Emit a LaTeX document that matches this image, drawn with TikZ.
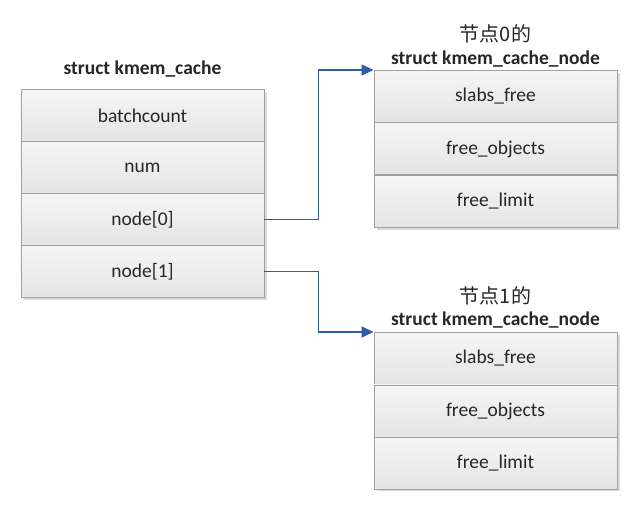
\documentclass[tikz,border=0pt]{standalone}
\usepackage{fontspec}
\setmainfont{Carlito}
\newfontfamily\cjk{Noto Sans CJK SC}
\usetikzlibrary{arrows.meta,positioning}
\definecolor{rowedge}{HTML}{A0A0A0}
\definecolor{rowtop}{HTML}{F6F6F6}
\definecolor{rowbot}{HTML}{E4E4E4}
\definecolor{linkblue}{HTML}{2E5DA6}
\begin{document}
\begin{tikzpicture}[x=1pt,y=-1pt,
  rowbox/.style={draw=rowedge,line width=0.9pt,top color=rowtop,bottom color=rowbot,
    minimum width=243pt,minimum height=52pt,inner sep=0pt,anchor=north,
    font=\fontsize{19.5}{22}\selectfont,text=black!85},
  title/.style={font=\bfseries\fontsize{19.5}{22}\selectfont,text=black!85},
  cjktitle/.style={font=\cjk\fontsize{20}{24}\selectfont,text=black!85},
  link/.style={draw=linkblue,line width=1.4pt,-{Triangle[length=12pt,width=11pt]}},
  shadowbox/.style={fill=black!14,draw=none}
]
\useasboundingbox (0,0) rectangle (641,508);
% shadows
\fill[shadowbox] (24,92) rectangle (267,300);
\fill[shadowbox] (377,73) rectangle (620,230);
\fill[shadowbox] (377,335) rectangle (620,491);
% left struct
\node[title] (lt) at (142.5,69) {struct kmem\_cache};
\node[rowbox] (l1) at (142.5,89) {batchcount};
\node[rowbox] (l2) at (142.5,141) {num};
\node[rowbox] (l3) at (142.5,193) {node[0]};
\node[rowbox] (l4) at (142.5,245) {node[1]};
% right struct 0
\node[cjktitle] (at1) at (495.5,34) {节点0的};
\node[title] (at2) at (495.5,59) {struct kmem\_cache\_node};
\node[rowbox] (a1) at (495.5,70) {slabs\_free};
\node[rowbox] (a2) at (495.5,122.5) {free\_objects};
\node[rowbox] (a3) at (495.5,175) {free\_limit};
% right struct 1
\node[cjktitle] (bt1) at (495.5,296) {节点1的};
\node[title] (bt2) at (495.5,320) {struct kmem\_cache\_node};
\node[rowbox] (b1) at (495.5,332) {slabs\_free};
\node[rowbox] (b2) at (495.5,384.5) {free\_objects};
\node[rowbox] (b3) at (495.5,437) {free\_limit};
% links
\draw[link] (l3.east) -- ++(54,0) |- (a1.north west);
\draw[link] (l4.east) -- ++(54,0) |- (b1.north west);
\end{tikzpicture}
\end{document}
